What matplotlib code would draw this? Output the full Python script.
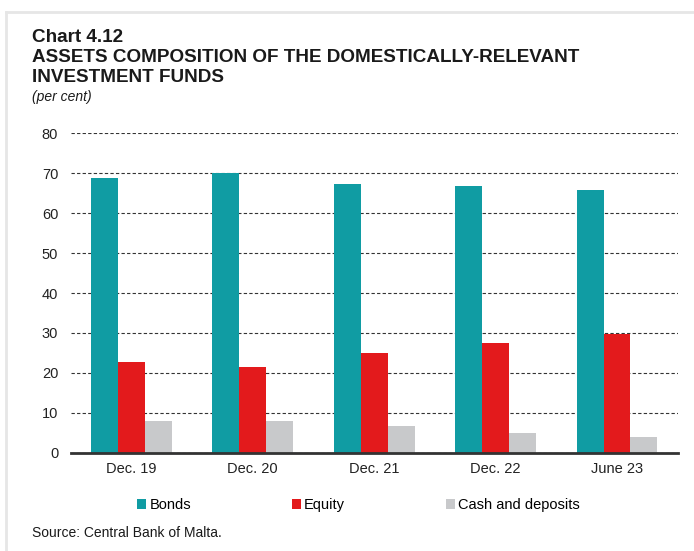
import numpy as np
import matplotlib
matplotlib.use('Agg')
import matplotlib.pyplot as plt
from matplotlib.lines import Line2D
from matplotlib.patches import Patch

plt.rcParams['font.family'] = ['Liberation Sans', 'DejaVu Sans']

periods = ['Dec. 19', 'Dec. 20', 'Dec. 21', 'Dec. 22', 'June 23']
bonds = [68.9, 70.1, 67.4, 66.8, 65.8]
equity = [22.8, 21.5, 24.9, 27.5, 29.7]
cash = [7.9, 7.9, 6.8, 4.9, 3.9]

series = ['Bonds', 'Equity', 'Cash and deposits']
colors = ['#109ca3', '#e31a1c', '#c8c9cb']

fig = plt.figure(figsize=(6.94, 5.51), dpi=100)
ax = fig.add_axes([0.1019, 0.1784, 0.8746, 0.5796])

x = np.arange(len(periods))
w = 0.222
for i, (vals, col) in enumerate(zip([bonds, equity, cash], colors)):
    ax.bar(x + (i - 1) * w, vals, width=w, color=col, zorder=3)

ax.set_xlim(-0.5, len(periods) - 0.5)
ax.set_ylim(0, 80)
ax.set_yticks(range(0, 81, 10))
ax.set_xticks(x)
ax.set_xticklabels(periods)
ax.tick_params(axis='both', length=0, labelsize=10.5, colors='#222222')
ax.tick_params(axis='y', pad=9)
ax.tick_params(axis='x', pad=7)
ax.yaxis.grid(True, linestyle=(0, (3, 2)), color='#333333', linewidth=0.8)
for s in ['left', 'right', 'top']:
    ax.spines[s].set_visible(False)
ax.spines['bottom'].set_color('#333333')
ax.spines['bottom'].set_linewidth(2)
ax.spines['bottom'].set_zorder(4)

# headings
title_kw = dict(fontsize=13.6, fontweight='bold', va='center', color='#1a1a1a')
fig.text(32 / 694, 1 - 37 / 551, 'Chart 4.12', **title_kw)
fig.text(32 / 694, 1 - 57 / 551, 'ASSETS COMPOSITION OF THE DOMESTICALLY-RELEVANT', **title_kw)
fig.text(32 / 694, 1 - 77 / 551, 'INVESTMENT FUNDS', **title_kw)
fig.text(32 / 694, 1 - 97 / 551, '(per cent)', fontsize=10, style='italic', va='center', color='#1a1a1a')
fig.text(32 / 694, 1 - 533 / 551, 'Source: Central Bank of Malta.', fontsize=10, va='center', color='#1a1a1a')

handles = [Patch(facecolor=c, edgecolor='none') for c in colors]
fig.legend(handles, series, loc='center left', bbox_to_anchor=(137 / 694, 1 - 505 / 551), ncol=3,
           frameon=False, fontsize=10.5, handlelength=0.65, handleheight=0.65, handletextpad=0.2,
           columnspacing=6.9, borderaxespad=0, borderpad=0)

# light page frame
fig.add_artist(Line2D([6 / 694, 1], [1 - 12 / 551, 1 - 12 / 551], color='#e6e6e6', lw=2))
fig.add_artist(Line2D([6 / 694, 6 / 694], [1 - 12 / 551, 0], color='#e6e6e6', lw=2))

fig.savefig('out.png', dpi=100)
